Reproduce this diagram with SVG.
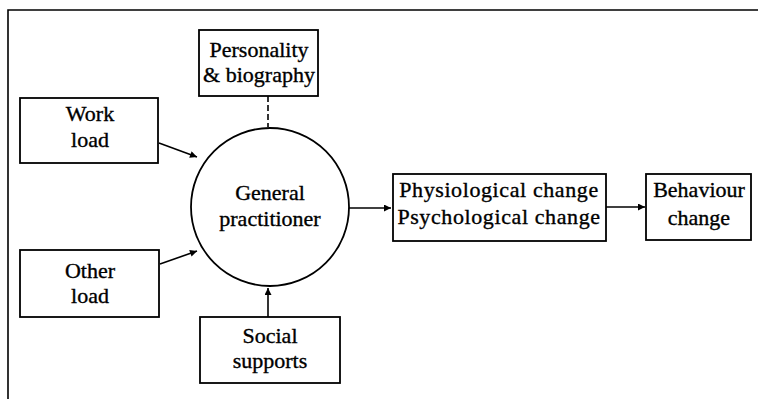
<svg xmlns="http://www.w3.org/2000/svg" width="758" height="399" viewBox="0 0 758 399">
<style>
.box{fill:#fff;stroke:#000;stroke-width:1.8}
.t{font-family:"Liberation Serif","Times New Roman",serif;font-size:22px;fill:#000;stroke:#000;stroke-width:0.35;text-anchor:middle}
.c{stroke:#000;stroke-width:1.6;fill:none}
</style>
<defs>
<marker id="ah" viewBox="0 0 10 10" refX="10" refY="5" markerWidth="10" markerHeight="7" markerUnits="userSpaceOnUse" orient="auto">
<path d="M0,0 L10,5 L0,10 z" fill="#000"/>
</marker>
</defs>
<rect width="758" height="399" fill="#fff"/>
<g id="frame">
<path d="M8,399 L8,10 L758,10" class="c" stroke-width="2"/>
</g>
<g id="connectors">
<line x1="268" y1="96" x2="268" y2="127" class="c" stroke-dasharray="6,3"/>
<line x1="159" y1="143" x2="197" y2="157" class="c" marker-end="url(#ah)"/>
<line x1="160" y1="264" x2="197" y2="251" class="c" marker-end="url(#ah)"/>
<line x1="268" y1="317" x2="268" y2="288" class="c" marker-end="url(#ah)"/>
<line x1="349" y1="208" x2="391" y2="208" class="c" marker-end="url(#ah)"/>
<line x1="606" y1="207" x2="645" y2="207" class="c" marker-end="url(#ah)"/>
</g>
<g id="personality">
<rect x="199" y="30" width="119" height="66" class="box"/>
<text class="t" x="259" y="57">Personality</text>
<text class="t" x="259" y="82">&amp; biography</text>
</g>
<g id="workload">
<rect x="20" y="98" width="138" height="65" class="box"/>
<text class="t" x="90" y="121">Work</text>
<text class="t" x="90" y="147">load</text>
</g>
<g id="gp">
<circle cx="270" cy="207" r="79" class="box"/>
<text class="t" x="270" y="200">General</text>
<text class="t" x="270" y="226">practitioner</text>
</g>
<g id="otherload">
<rect x="20" y="250" width="139" height="67" class="box"/>
<text class="t" x="90" y="278">Other</text>
<text class="t" x="90" y="303">load</text>
</g>
<g id="social">
<rect x="200" y="317" width="140" height="66" class="box"/>
<text class="t" x="270" y="343">Social</text>
<text class="t" x="270" y="368">supports</text>
</g>
<g id="change">
<rect x="393" y="174" width="213" height="67" class="box"/>
<text class="t" x="499" y="197" letter-spacing="0.6">Physiological change</text>
<text class="t" x="499" y="224" letter-spacing="0.6">Psychological change</text>
</g>
<g id="behaviour">
<rect x="646" y="174" width="105" height="66" class="box"/>
<text class="t" x="699" y="197">Behaviour</text>
<text class="t" x="699" y="225">change</text>
</g>
</svg>
